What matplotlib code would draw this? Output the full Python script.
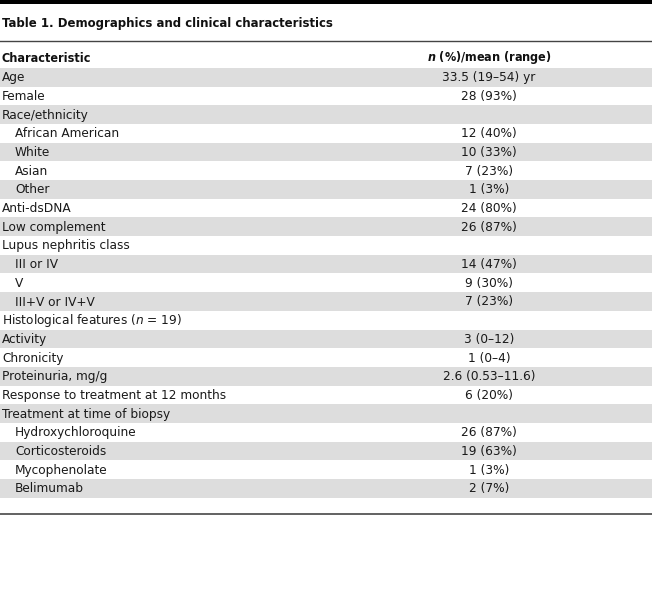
import matplotlib
matplotlib.use("Agg")
import matplotlib.pyplot as plt

plt.rcParams["font.family"] = ["DejaVu Sans"]
plt.rcParams["font.stretch"] = "condensed"
plt.rcParams["mathtext.fontset"] = "custom"
plt.rcParams["mathtext.it"] = "DejaVu Sans:italic"
plt.rcParams["mathtext.rm"] = "DejaVu Sans"
plt.rcParams["mathtext.bf"] = "DejaVu Sans:bold"
plt.rcParams["mathtext.bfit"] = "DejaVu Sans:italic:bold"

title = "Table 1. Demographics and clinical characteristics"
col_headers = ["Characteristic", r"$\mathbfit{n}$ (%)/mean (range)"]

labels = [
    "Age", "Female", "Race/ethnicity", "African American", "White", "Asian", "Other",
    "Anti-dsDNA", "Low complement", "Lupus nephritis class", "III or IV", "V",
    "III+V or IV+V", r"Histological features ($\mathit{n}$ = 19)", "Activity", "Chronicity",
    "Proteinuria, mg/g", "Response to treatment at 12 months", "Treatment at time of biopsy",
    "Hydroxychloroquine", "Corticosteroids", "Mycophenolate", "Belimumab",
]
indented = [
    False, False, False, True, True, True, True,
    False, False, False, True, True,
    True, False, False, False,
    False, False, False,
    True, True, True, True,
]
values = [
    "33.5 (19–54) yr", "28 (93%)", "", "12 (40%)", "10 (33%)", "7 (23%)", "1 (3%)",
    "24 (80%)", "26 (87%)", "", "14 (47%)", "9 (30%)",
    "7 (23%)", "", "3 (0–12)", "1 (0–4)",
    "2.6 (0.53–11.6)", "6 (20%)", "",
    "26 (87%)", "19 (63%)", "1 (3%)", "2 (7%)",
]

W, H = 652, 592
fig = plt.figure(figsize=(W / 100, H / 100), dpi=100)
ax = fig.add_axes([0, 0, 1, 1])
ax.set_xlim(0, W)
ax.set_ylim(H, 0)
ax.axis("off")

top = 68.0
rh = 18.68
fs_body = 9.7
fs_head = 9.0

ax.axhspan(0, 3.5, color="black", lw=0)
ax.text(2, 23, title, fontsize=9.4, fontweight="bold", va="center", ha="left", color="#111111")
ax.axhline(40.8, color="#444444", lw=1.0)
ax.text(2, 58, col_headers[0], fontsize=fs_head, fontweight="bold", va="center", ha="left", color="#111111")
ax.text(489, 58, col_headers[1], fontsize=fs_head, fontweight="bold", va="center", ha="center", color="#111111")

for i, (lab, ind, val) in enumerate(zip(labels, indented, values)):
    yc = top + rh * (i + 0.5)
    if i % 2 == 0:
        ax.barh(yc, W, height=rh, left=0, color="#dddddd", lw=0)
    ax.text(15 if ind else 2, yc + 0.5, lab, fontsize=fs_body, va="center", ha="left", color="#1a1a1a")
    if val:
        ax.text(489, yc + 0.5, val, fontsize=fs_body, va="center", ha="center", color="#1a1a1a")

ax.axhline(513.5, color="#555555", lw=1.3)

fig.savefig("out.png", dpi=100)
